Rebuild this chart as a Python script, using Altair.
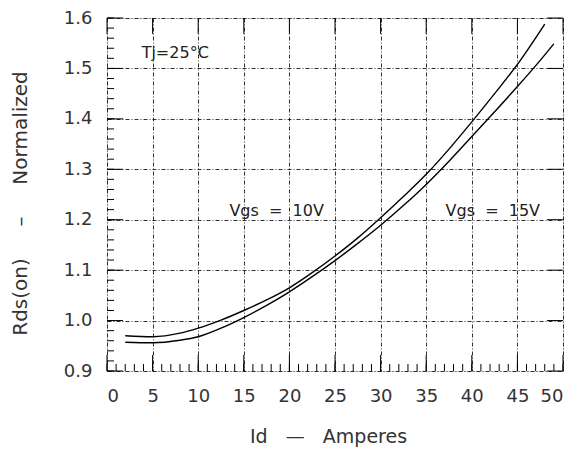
import altair as alt
import pandas as pd

# Curves
x_10v = [2, 5, 8, 10, 12.5, 15, 17.5, 20, 22.5, 25, 27.5, 30, 32.5, 35, 37.5, 40, 42.5, 45, 48]
y_10v = [0.970, 0.968, 0.975, 0.985, 1.001, 1.020, 1.041, 1.065, 1.095, 1.128, 1.164, 1.204,
         1.246, 1.290, 1.340, 1.394, 1.450, 1.508, 1.588]
x_15v = [2, 5, 8, 10, 12.5, 15, 17.5, 20, 22.5, 25, 27.5, 30, 32.5, 35, 37.5, 40, 42.5, 45, 47.5, 49]
y_15v = [0.957, 0.956, 0.961, 0.968, 0.985, 1.006, 1.030, 1.057, 1.087, 1.119, 1.153, 1.189,
         1.228, 1.270, 1.316, 1.365, 1.414, 1.464, 1.516, 1.549]

# Axis ticks
x_major = [0, 5, 10, 15, 20, 25, 30, 35, 40, 45, 50]
x_minor = list(range(0, 51))
y_major = [0.9, 1.0, 1.1, 1.2, 1.3, 1.4, 1.5, 1.6]
y_minor = [round(0.9 + 0.02 * i, 2) for i in range(36)]

# Annotations
ann_text = ["Tj=25°C", "Vgs\u00a0\u00a0=\u00a0\u00a010V", "Vgs\u00a0\u00a0=\u00a0\u00a015V"]
ann_x = [3.8, 18.6, 42.3]
ann_y = [1.530, 1.218, 1.218]
ann_align = ["left", "center", "center"]

W, H = 456, 353
FONT = "DejaVu Sans"

curves = pd.DataFrame(
    {"x": x_10v + x_15v, "y": y_10v + y_15v,
     "s": ["10V"] * len(x_10v) + ["15V"] * len(x_15v)}
)

xscale = alt.Scale(domain=[0, 50], nice=False, zero=False)
yscale = alt.Scale(domain=[0.9, 1.6], nice=False, zero=False)

grid_dash = [4, 2, 1, 2]

lines = alt.Chart(curves).mark_line(color="black", strokeWidth=1.4, interpolate="monotone").encode(
    x=alt.X("x:Q", scale=xscale,
            axis=alt.Axis(values=x_major, format="d", title="Id\u00a0\u00a0\u00a0—\u00a0\u00a0\u00a0Amperes",
                          grid=True, gridColor="black", gridDash=grid_dash, gridWidth=0.8, gridOpacity=1,
                          ticks=False, tickSize=0, domain=False, labelPadding=16,
                          labelFont=FONT, labelFontSize=18, labelColor="#333",
                          titleFont=FONT, titleFontSize=19, titleFontWeight="normal", titleColor="#333",
                          titleX=221, titleY=65, titleBaseline="middle")),
    y=alt.Y("y:Q", scale=yscale,
            axis=alt.Axis(values=y_major, format=".1f",
                          title="Rds(on)\u00a0\u00a0\u00a0\u00a0\u00a0–\u00a0\u00a0\u00a0\u00a0\u00a0Normalized",
                          grid=True, gridColor="black", gridDash=grid_dash, gridWidth=0.8, gridOpacity=1,
                          ticks=False, tickSize=0, domain=False, labelPadding=15,
                          labelFont=FONT, labelFontSize=18, labelColor="#333",
                          titleFont=FONT, titleFontSize=20, titleFontWeight="normal", titleColor="#333",
                          titleX=-87, titleY=185, titleBaseline="middle", titleAngle=270)),
    detail="s:N",
)

def xrule(vals, y0, y1):
    return alt.Chart(pd.DataFrame({"x": vals})).mark_rule(color="black", strokeWidth=1).encode(
        x=alt.X("x:Q", scale=xscale), y=alt.value(y0), y2=alt.value(y1))

def yrule(vals, x0, x1):
    return alt.Chart(pd.DataFrame({"y": vals})).mark_rule(color="black", strokeWidth=1).encode(
        y=alt.Y("y:Q", scale=yscale), x=alt.value(x0), x2=alt.value(x1))

ticks = [
    xrule(x_minor, H - 7, H),
    xrule(x_major, H - 16, H),
    xrule(x_major, 0, 16),
    yrule(y_minor, 0, 7),
    yrule(y_major, 0, 16),
    yrule(y_major, W - 16, W),
]

ann = pd.DataFrame({"t": ann_text, "x": ann_x, "y": ann_y, "a": ann_align})
texts = []
for al in ["left", "center"]:
    texts.append(
        alt.Chart(ann[ann["a"] == al]).mark_text(font=FONT, fontSize=16, color="#222", align=al,
                                                 baseline="middle").encode(
            x=alt.X("x:Q", scale=xscale),
            y=alt.Y("y:Q", scale=yscale),
            text="t:N",
        )
    )

chart = alt.layer(lines, *ticks, *texts).properties(
    width=W, height=H,
    autosize=alt.AutoSizeParams(type="none"),
    padding={"left": 99, "top": 10, "right": 6, "bottom": 80},
).configure_view(stroke="black", strokeWidth=1.5).configure(background="white")

chart.save("out.html", embed_options={"renderer": "svg", "actions": False})
